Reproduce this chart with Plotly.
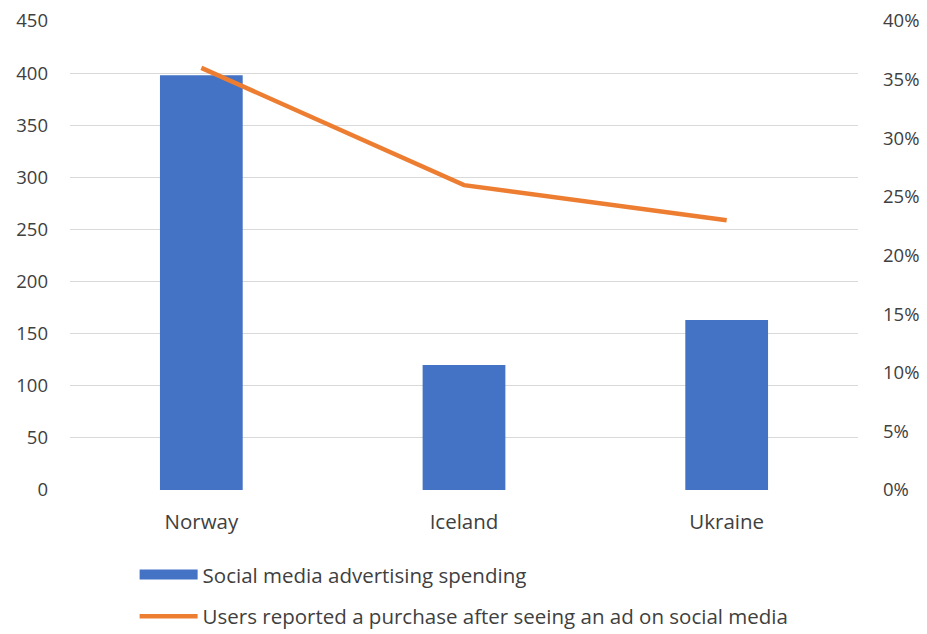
import plotly.graph_objects as go

countries = ["Norway", "Iceland", "Ukraine"]
spending = [398, 120, 163]
purchase_pct = [0.36, 0.26, 0.23]

left_ticks = [0, 50, 100, 150, 200, 250, 300, 350, 400, 450]
right_ticks = [0, 0.05, 0.10, 0.15, 0.20, 0.25, 0.30, 0.35, 0.40]

bar_name = "Social media advertising spending"
line_name = "Users reported a purchase after seeing an ad on social media"
blue = "#4472C4"
orange = "#ED7D31"

fig = go.Figure()
fig.add_trace(go.Bar(
    x=countries, y=spending, name=bar_name,
    marker=dict(color=blue, line=dict(width=0)),
    showlegend=False,
))
# legend proxy: wide rectangle swatch like the reference legend
fig.add_trace(go.Scatter(
    x=[None], y=[None], mode="lines", name=bar_name,
    line=dict(color=blue, width=10), legendgroup="a", hoverinfo="skip",
))
fig.add_trace(go.Scatter(
    x=countries, y=purchase_pct, yaxis="y2", mode="lines",
    name=line_name, line=dict(color=orange, width=4.5), legendgroup="b",
))

font = "Open Sans, Liberation Sans, sans-serif"
fig.update_layout(
    width=927, height=634,
    margin=dict(l=70, r=69, t=21, b=144, autoexpand=False),
    paper_bgcolor="white", plot_bgcolor="white",
    bargap=0.685,
    font=dict(family=font, size=17, color="#404040"),
    xaxis=dict(showgrid=False, showline=False, ticks="", automargin=False,
               ticklabelstandoff=17, tickfont=dict(size=20.5, color="#404040")),
    yaxis=dict(range=[0, 450], tickvals=left_ticks, showgrid=True, gridcolor="#D9D9D9",
               gridwidth=1.3, zeroline=False, showline=False, ticks="", ticklabelstandoff=21,
               automargin=False, tickfont=dict(size=18.5, color="#404040")),
    yaxis2=dict(range=[0, 0.40], tickvals=right_ticks, tickformat=".0%", overlaying="y",
                side="right", showgrid=False, zeroline=False, showline=False, ticks="",
                ticklabelstandoff=24, automargin=False, tickfont=dict(size=18.5, color="#404040")),
    legend=dict(x=0.082, y=-0.138, xanchor="left", yanchor="top", orientation="v",
                itemwidth=58, tracegroupgap=12, font=dict(size=20.5, color="#404040"),
                bgcolor="rgba(0,0,0,0)"),
    showlegend=True,
)

fig.write_html("out.html", config={"displayModeBar": False},
               post_script="document.body.style.margin='0';document.body.style.overflow='hidden';")
